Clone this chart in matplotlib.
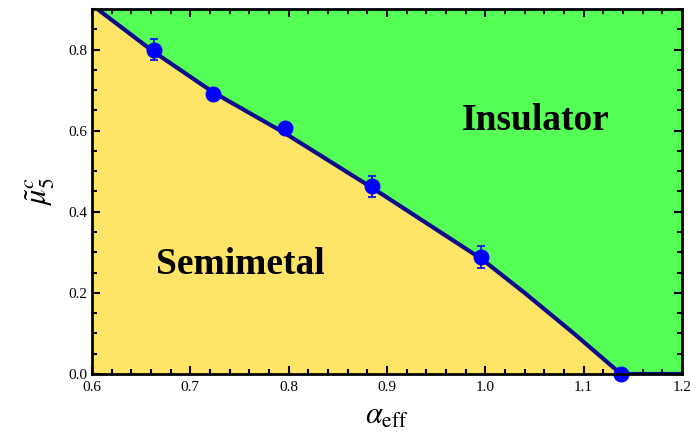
import numpy as np
import matplotlib
matplotlib.use("Agg")
from matplotlib import pyplot as plt
from matplotlib.ticker import MultipleLocator

# lattice data points (alpha_eff, mu5^c, error)
alpha = [0.663, 0.723, 0.796, 0.885, 0.996, 1.138]
mu5c = [0.800, 0.690, 0.607, 0.463, 0.288, 0.0]
mu5c_err = [0.026, 0.012, 0.0, 0.026, 0.027, 0.0]

# phase boundary curve
line_x = [0.600, 0.663, 0.723, 0.796, 0.885, 0.996, 1.040, 1.090, 1.138, 1.200]
line_y = [0.910, 0.794, 0.695, 0.594, 0.459, 0.284, 0.200, 0.100, 0.0, 0.0]

plt.rcParams['font.family'] = ['Liberation Serif', 'DejaVu Serif']
plt.rcParams['mathtext.fontset'] = 'stix'

fig = plt.figure(figsize=(6.9, 4.36), dpi=100)
ax = fig.add_axes([0.1333, 0.1422, 0.8551, 0.8372])

green = '#55ff55'
yellow = '#fee568'

ax.set_facecolor(green)
ax.fill_between(line_x, 0, line_y, color=yellow, lw=0, zorder=1)
ax.plot(line_x, line_y, color='#0b0b8c', lw=3, zorder=3, solid_joinstyle='round')

ax.errorbar(alpha, mu5c, yerr=mu5c_err, fmt='o', color='#0000ff', ms=10.5,
            elinewidth=1.2, capsize=3, capthick=1.2, zorder=4, clip_on=False)

ax.text(1.051, 0.626, 'Insulator', fontsize=27, fontweight='bold',
        ha='center', va='center', zorder=5)
ax.text(0.751, 0.269, 'Semimetal', fontsize=27, fontweight='bold',
        ha='center', va='center', zorder=5)

ax.set_xlim(0.6, 1.2)
ax.set_ylim(0.0, 0.9)
ax.xaxis.set_major_locator(MultipleLocator(0.1))
ax.xaxis.set_minor_locator(MultipleLocator(0.02))
ax.yaxis.set_major_locator(MultipleLocator(0.2))
ax.yaxis.set_minor_locator(MultipleLocator(0.05))
ax.xaxis.set_major_formatter(matplotlib.ticker.FormatStrFormatter('%.1f'))
ax.yaxis.set_major_formatter(matplotlib.ticker.FormatStrFormatter('%.1f'))
ax.tick_params(which='both', direction='in', top=True, right=True, labelsize=11, width=1.5)
ax.tick_params(which='major', length=6)
ax.tick_params(which='minor', length=3.5)
ax.tick_params(axis='x', pad=5)
for s in ax.spines.values():
    s.set_linewidth(2)
    s.set_zorder(6)

ax.set_xlabel(r'$\alpha_{\rm eff}$', fontsize=22, labelpad=6)
ax.set_ylabel(r'$\tilde{\mu}_5^c$', fontsize=22, labelpad=8)

fig.savefig('out.png', dpi=100)
